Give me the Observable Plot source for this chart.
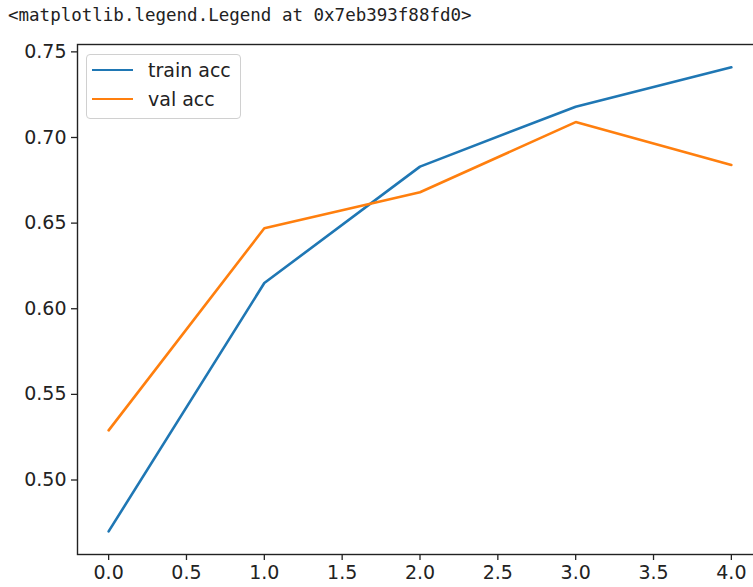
<!DOCTYPE html>
<html>
<head>
<meta charset="utf-8">
<script src="https://cdn.jsdelivr.net/npm/d3@7"></script>
<script src="https://cdn.jsdelivr.net/npm/@observablehq/plot@0.6"></script>
<style>
  html, body { margin: 0; padding: 0; background: #fff; }
  #wrap { position: relative; width: 753px; height: 587px; overflow: hidden; }
  #title { position: absolute; left: 8px; top: 5px; font-family: "DejaVu Sans Mono", monospace; font-size: 17.5px; color: #222; white-space: pre; }
  #chart { position: absolute; left: 0; top: 0; width: 800px; }
  #chart svg { max-width: none !important; }
  #legend { position: absolute; left: 86px; top: 54px; width: 153px; height: 63px; border: 1px solid #d0d0d0; border-radius: 4px; background: rgba(255,255,255,0.8); font-family: "DejaVu Sans", sans-serif; font-size: 19px; color: #222; }
  .item { position: absolute; left: 5px; height: 22px; display: flex; align-items: center; }
  .sw { width: 41px; height: 0; border-top: 2.6px solid; margin-right: 15px; }
</style>
</head>
<body>
<div id="wrap">
  <div id="chart"></div>
  <div id="title"></div>
  <div id="legend"></div>
</div>
<script>
const epochs = [0, 1, 2, 3, 4];
const trainAcc = [0.470, 0.615, 0.683, 0.718, 0.741];
const valAcc = [0.529, 0.647, 0.668, 0.709, 0.684];
const seriesNames = ["train acc", "val acc"];
const seriesColors = ["#1f77b4", "#ff7f0e"];
const xTicks = [0, 0.5, 1, 1.5, 2, 2.5, 3, 3.5, 4];
const yTicks = [0.50, 0.55, 0.60, 0.65, 0.70, 0.75];
const titleText = "<matplotlib.legend.Legend at 0x7eb393f88fd0>";

const data = [];
epochs.forEach((e, i) => {
  data.push({epoch: e, acc: trainAcc[i], series: seriesNames[0]});
});
epochs.forEach((e, i) => {
  data.push({epoch: e, acc: valAcc[i], series: seriesNames[1]});
});

const chart = Plot.plot({
  width: 800,
  height: 587,
  marginTop: 44,
  marginBottom: 33,
  marginLeft: 77,
  marginRight: 38,
  style: {fontFamily: "DejaVu Sans", fontSize: "19px", color: "#222", background: "transparent", maxWidth: "none"},
  x: {domain: [-0.2, 4.2]},
  y: {domain: [0.4565, 0.7543]},
  color: {domain: seriesNames, range: seriesColors},
  marks: [
    Plot.line(data, {x: "epoch", y: "acc", z: "series", stroke: "series", strokeWidth: 2.6, strokeLinejoin: "miter"}),
    Plot.frame({stroke: "#222", strokeWidth: 1.4}),
    Plot.axisX({ticks: xTicks, tickFormat: d3.format(".1f"), tickSize: 6, tickPadding: 5, label: null, stroke: "#222", strokeWidth: 1.3}),
    Plot.axisY({ticks: yTicks, tickFormat: d3.format(".2f"), tickSize: 6, tickPadding: 5, label: null, stroke: "#222", strokeWidth: 1.3})
  ]
});
chart.style.maxWidth = "none";
document.getElementById("chart").appendChild(chart);
document.getElementById("title").textContent = titleText;

const legend = document.getElementById("legend");
seriesNames.forEach((name, i) => {
  const item = document.createElement("div");
  item.className = "item";
  item.style.top = (4 + i * 29) + "px";
  const sw = document.createElement("div");
  sw.className = "sw";
  sw.style.borderColor = seriesColors[i];
  const lab = document.createElement("span");
  lab.textContent = name;
  item.appendChild(sw);
  item.appendChild(lab);
  legend.appendChild(item);
});
</script>
</body>
</html>
